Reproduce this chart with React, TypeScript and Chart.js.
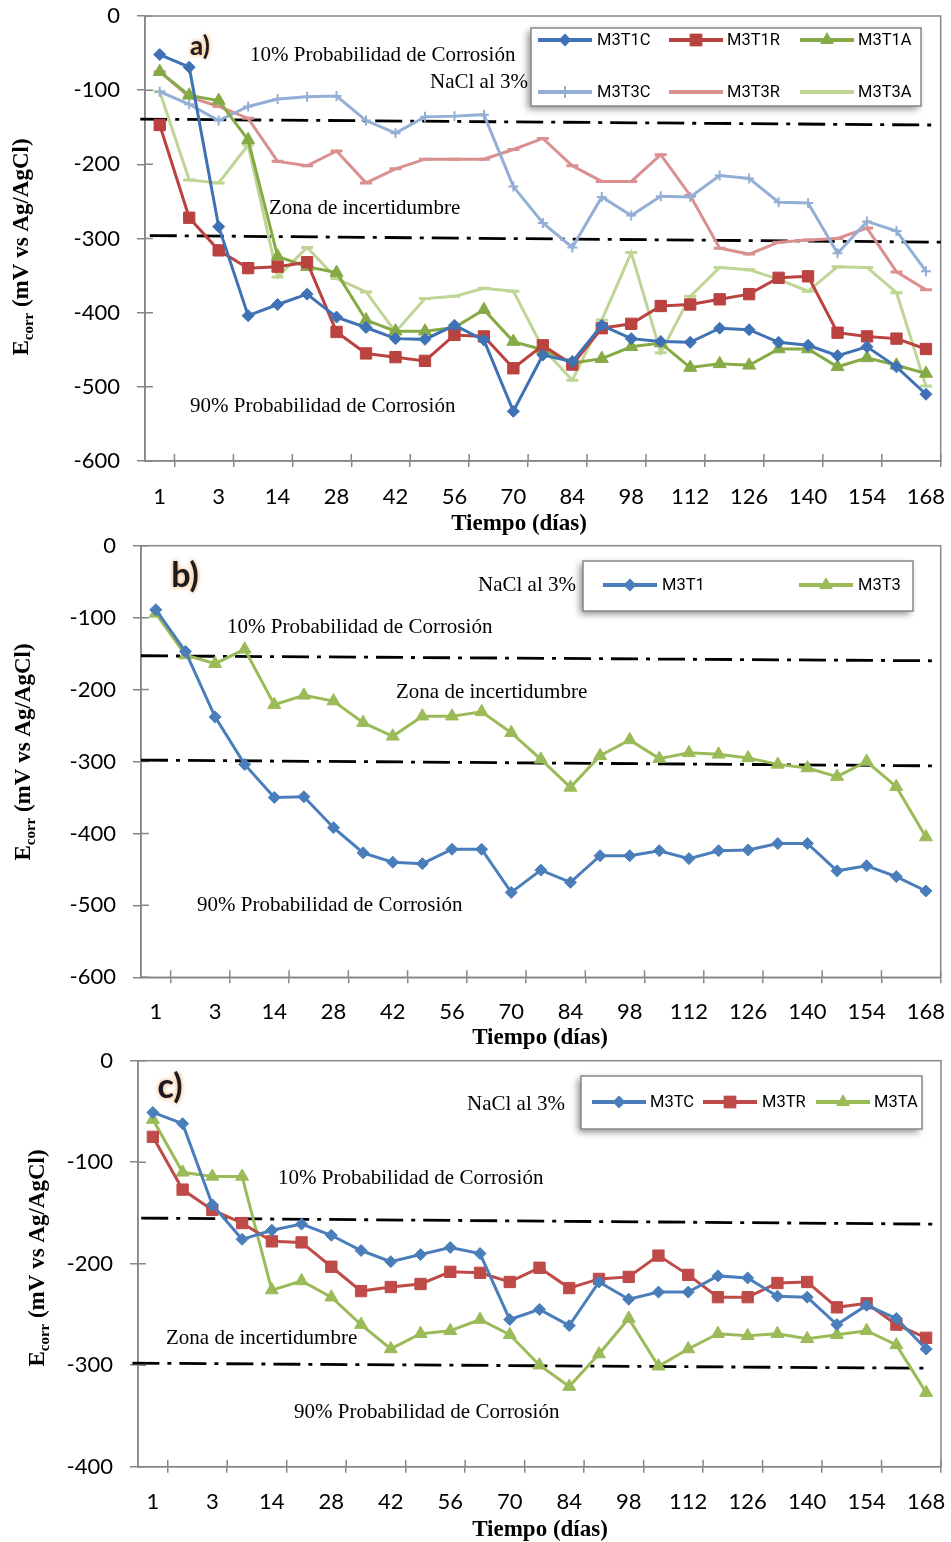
import React, { useEffect, useRef } from 'react';
import { Chart, registerables } from 'chart.js';

Chart.register(...registerables);

// ---------- data ----------
const days = ['1', '2', '3', '7', '14', '21', '28', '35', '42', '49', '56', '63', '70', '77', '84', '91', '98', '105', '112', '119', '126', '133', '140', '147', '154', '161', '168'];

// panel a)
const m3t1c = [-52, -69, -284, -404, -389, -375, -406, -420, -435, -436, -417, -437, -533, -457, -466, -417, -435, -439, -440, -421, -423, -440, -444, -458, -446, -473, -510];
const m3t1r = [-147, -272, -316, -340, -338, -332, -426, -455, -460, -465, -430, -432, -475, -444, -470, -421, -415, -391, -389, -382, -375, -353, -351, -427, -432, -435, -449];
const m3t1a = [-75, -107, -114, -167, -324, -338, -346, -410, -425, -425, -420, -396, -439, -450, -468, -462, -446, -441, -474, -469, -471, -449, -449, -473, -461, -471, -482];
const m3t3c = [-102, -119, -141, -122, -112, -109, -108, -141, -158, -136, -135, -133, -230, -279, -312, -244, -269, -243, -244, -215, -219, -251, -252, -320, -277, -290, -344];
const m3t3r = [-75, -109, -122, -138, -196, -202, -182, -225, -206, -193, -193, -193, -180, -165, -202, -223, -223, -187, -242, -313, -321, -305, -302, -300, -286, -345, -369];
const m3t3a = [-102, -221, -225, -174, -352, -312, -354, -372, -426, -381, -378, -367, -371, -448, -491, -410, -319, -454, -378, -339, -342, -355, -371, -338, -339, -373, -499];

// panel b)
const m3t1 = [-89, -147, -238, -304, -350, -349, -392, -427, -440, -442, -422, -422, -482, -451, -468, -431, -431, -424, -435, -424, -423, -414, -414, -452, -445, -460, -480];
const m3t3 = [-94, -152, -164, -144, -221, -208, -216, -246, -265, -237, -237, -231, -260, -297, -336, -292, -270, -296, -288, -290, -295, -304, -309, -321, -300, -335, -405];

// panel c)
const m3tc = [-51, -62, -142, -176, -167, -161, -172, -187, -198, -191, -184, -190, -255, -245, -261, -218, -235, -228, -228, -212, -214, -232, -233, -260, -241, -254, -284];
const m3tr = [-75, -127, -147, -160, -178, -179, -203, -227, -223, -220, -208, -209, -218, -204, -224, -215, -213, -192, -211, -233, -233, -219, -218, -243, -239, -260, -273];
const m3ta = [-58, -110, -114, -114, -226, -217, -233, -260, -284, -269, -266, -255, -270, -300, -321, -289, -254, -301, -284, -269, -271, -269, -274, -270, -266, -280, -327];

// threshold (dash-dot) lines: x as fraction of plot width, y in mV
const thrAUpper = [{ x: -0.006, y: -139 }, { x: 0.989, y: -147 }];
const thrALower = [{ x: 0.006, y: -296 }, { x: 1.002, y: -305 }];
const thrBUpper = [{ x: 0.0, y: -153 }, { x: 0.989, y: -160 }];
const thrBLower = [{ x: 0.0, y: -298 }, { x: 0.989, y: -306 }];
const thrCUpper = [{ x: 0.004, y: -155 }, { x: 0.99, y: -161 }];
const thrCLower = [{ x: -0.007, y: -298 }, { x: 0.983, y: -303 }];

const yTicksA = [0, -100, -200, -300, -400, -500, -600];
const yTicksC = [0, -100, -200, -300, -400];

// ---------- styles ----------
const AX = '#878787';
const SERIF = '"Liberation Serif", "Times New Roman", serif';
const SANS = 'Lato, "Open Sans", sans-serif';
const LEG = 'Roboto, Lato, sans-serif';

const BLUE_A = '#3F72B5';
const RED_A = '#BA423F';
const GREEN_A = '#86AA45';
const LBLUE = '#93AFD6';
const PINK = '#D9908E';
const LGREEN = '#BFD595';
const BLUE = '#4A7EBB';
const RED = '#BE4B48';
const GREEN = '#9BBB59';

const TXT10 = '10% Probabilidad de Corrosión';
const TXT90 = '90% Probabilidad de Corrosión';
const TXTZ = 'Zona de incertidumbre';
const TXTN = 'NaCl al 3%';

const panels: any[] = [
  {
    id: 'a',
    top: 0,
    height: 540,
    area: { left: 145, top: 16, right: 940.7, bottom: 461 },
    yMin: -600,
    yTicks: yTicksA,
    xLabelPad: 19,
    series: [
      { label: 'M3T1C', data: m3t1c, color: BLUE_A, style: 'rectRot', radius: 6, pbw: 1 },
      { label: 'M3T1R', data: m3t1r, color: RED_A, style: 'rect', radius: 8, pbw: 1 },
      { label: 'M3T1A', data: m3t1a, color: GREEN_A, style: 'triangle', radius: 7.5, pbw: 1 },
      { label: 'M3T3C', data: m3t3c, color: LBLUE, style: 'cross', radius: 5, pbw: 2 },
      { label: 'M3T3R', data: m3t3r, color: PINK, style: 'line', radius: 6, pbw: 3 },
      { label: 'M3T3A', data: m3t3a, color: LGREEN, style: 'line', radius: 6, pbw: 3 },
    ],
    thresholds: [thrAUpper, thrALower],
    texts: [
      [TXT10, 250, 55],
      [TXTN, 430, 82],
      [TXTZ, 269, 208],
      [TXT90, 190, 406],
    ],
    legend: {
      box: [531, 28, 390, 78],
      items: [
        [0, 538, 40, 597],
        [1, 669, 40, 727],
        [2, 800, 40, 858],
        [3, 538, 92, 597],
        [4, 669, 92, 727],
        [5, 800, 92, 858],
      ],
    },
    tag: { text: 'a)', x: 200, y: 47, size: 26 },
    yTitle: { x: 28, y: 247 },
    xTitle: { x: 519, y: 524 },
  },
  {
    id: 'b',
    top: 530,
    height: 520,
    area: { left: 141, top: 15.7, right: 940.7, bottom: 447.3 },
    yMin: -600,
    yTicks: yTicksA,
    xLabelPad: 17.4,
    series: [
      { label: 'M3T1', data: m3t1, color: BLUE, style: 'rectRot', radius: 6, pbw: 1 },
      { label: 'M3T3', data: m3t3, color: GREEN, style: 'triangle', radius: 7.5, pbw: 1 },
    ],
    thresholds: [thrBUpper, thrBLower],
    texts: [
      [TXTN, 478, 55],
      [TXT10, 227, 97],
      [TXTZ, 396, 162],
      [TXT90, 197, 375],
    ],
    legend: {
      box: [583, 31, 330, 50],
      items: [
        [0, 603, 55, 662],
        [1, 799, 55, 858],
      ],
    },
    tag: { text: 'b)', x: 185, y: 46, size: 34 },
    yTitle: { x: 30, y: 222 },
    xTitle: { x: 540, y: 508 },
  },
  {
    id: 'c',
    top: 1045,
    height: 497,
    area: { left: 138, top: 15.7, right: 941, bottom: 421.7 },
    yMin: -400,
    yTicks: yTicksC,
    xLabelPad: 18,
    series: [
      { label: 'M3TC', data: m3tc, color: BLUE, style: 'rectRot', radius: 6, pbw: 1 },
      { label: 'M3TR', data: m3tr, color: RED, style: 'rect', radius: 8, pbw: 1 },
      { label: 'M3TA', data: m3ta, color: GREEN, style: 'triangle', radius: 7.5, pbw: 1 },
    ],
    thresholds: [thrCUpper, thrCLower],
    texts: [
      [TXTN, 467, 59],
      [TXT10, 278, 133],
      [TXTZ, 166, 293],
      [TXT90, 294, 367],
    ],
    legend: {
      box: [581, 31, 341, 53],
      items: [
        [0, 592, 57, 650],
        [1, 703, 57, 762],
        [2, 816, 57, 874],
      ],
    },
    tag: { text: 'c)', x: 170, y: 42, size: 34 },
    yTitle: { x: 44, y: 213 },
    xTitle: { x: 540, y: 485 },
  },
];

// ---------- drawing helpers ----------
function drawMarker(ctx: CanvasRenderingContext2D, style: string, x: number, y: number, r: number, color: string) {
  ctx.save();
  ctx.fillStyle = color;
  ctx.strokeStyle = color;
  ctx.beginPath();
  if (style === 'rectRot') {
    ctx.moveTo(x - r, y);
    ctx.lineTo(x, y - r);
    ctx.lineTo(x + r, y);
    ctx.lineTo(x, y + r);
    ctx.closePath();
    ctx.fill();
  } else if (style === 'rect') {
    const s = r * Math.SQRT1_2;
    ctx.rect(x - s, y - s, 2 * s, 2 * s);
    ctx.fill();
  } else if (style === 'triangle') {
    const sx = r * Math.sin((2 * Math.PI) / 3);
    ctx.moveTo(x, y - r);
    ctx.lineTo(x + sx, y + r / 2);
    ctx.lineTo(x - sx, y + r / 2);
    ctx.closePath();
    ctx.fill();
  } else if (style === 'cross') {
    ctx.lineWidth = 2;
    ctx.moveTo(x, y - r);
    ctx.lineTo(x, y + r);
    ctx.stroke();
  }
  ctx.restore();
}

function zeroPadding(s: any) {
  s.paddingTop = 0;
  s.paddingBottom = 0;
  s.paddingLeft = 0;
  s.paddingRight = 0;
}

function buildConfig(p: any): any {
  const A = p.area;
  const W = 951;

  const datasets: any[] = p.series.map((s: any) => ({
    label: s.label,
    data: s.data,
    borderColor: s.color,
    backgroundColor: s.color,
    borderWidth: 3,
    pointStyle: s.style,
    pointRadius: s.radius,
    pointHoverRadius: s.radius,
    pointBorderWidth: s.pbw,
    pointBackgroundColor: s.color,
    pointBorderColor: s.color,
    tension: 0,
    xAxisID: 'x',
    yAxisID: 'y',
  }));
  p.thresholds.forEach((t: any) => {
    datasets.push({
      label: '',
      data: t,
      borderColor: '#000',
      borderWidth: 2.8,
      borderDash: [27, 8, 4, 8],
      pointRadius: 0,
      fill: false,
      clip: false,
      xAxisID: 'x2',
      yAxisID: 'y',
    });
  });

  const decor = {
    id: 'decor_' + p.id,
    beforeDatasetsDraw(chart: any) {
      const { ctx, chartArea: ca, scales } = chart;
      const xs = scales.x;
      const ys = scales.y;
      ctx.save();
      ctx.strokeStyle = AX;
      ctx.lineWidth = 1.5;
      ctx.strokeRect(ca.left, ca.top, ca.right - ca.left, ca.bottom - ca.top);
      const n = days.length;
      const half = (xs.getPixelForValue(1) - xs.getPixelForValue(0)) / 2;
      ctx.beginPath();
      for (let k = 0; k < n; k += 2) {
        const px = xs.getPixelForValue(k) + half;
        ctx.moveTo(px, ca.bottom - 7);
        ctx.lineTo(px, ca.bottom);
      }
      p.yTicks.forEach((v: number) => {
        const py = ys.getPixelForValue(v);
        ctx.moveTo(ca.left, py);
        ctx.lineTo(ca.left + 8, py);
      });
      ctx.stroke();
      ctx.restore();
    },
    afterDatasetsDraw(chart: any) {
      const { ctx } = chart;
      ctx.save();
      ctx.fillStyle = '#000';
      ctx.font = '21px ' + SERIF;
      ctx.textAlign = 'left';
      ctx.textBaseline = 'middle';
      p.texts.forEach((t: any) => ctx.fillText(t[0], t[1], t[2]));
      ctx.restore();

      // legend
      const [bx, by, bw, bh] = p.legend.box;
      ctx.save();
      ctx.shadowColor = 'rgba(0,0,0,0.45)';
      ctx.shadowBlur = 7;
      ctx.shadowOffsetX = -3;
      ctx.shadowOffsetY = 3;
      ctx.fillStyle = '#fff';
      ctx.fillRect(bx, by, bw, bh);
      ctx.restore();
      ctx.save();
      ctx.strokeStyle = AX;
      ctx.lineWidth = 1.5;
      ctx.strokeRect(bx, by, bw, bh);
      p.legend.items.forEach((it: any) => {
        const [di, sx, ry, tx] = it;
        const s = p.series[di];
        ctx.strokeStyle = s.color;
        ctx.lineWidth = 4;
        ctx.beginPath();
        ctx.moveTo(sx, ry);
        ctx.lineTo(sx + 54, ry);
        ctx.stroke();
        const r = s.style === 'rect' ? 9 : s.style === 'triangle' ? 8 : s.style === 'cross' ? 6 : 6.5;
        drawMarker(ctx, s.style, sx + 27, ry, r, s.color);
        ctx.fillStyle = '#000';
        ctx.font = '16.5px ' + LEG;
        ctx.textAlign = 'left';
        ctx.textBaseline = 'middle';
        ctx.fillText(s.label, tx, ry + 1);
      });
      ctx.restore();
    },
    afterDraw(chart: any) {
      const { ctx } = chart;
      // panel tag with orange glow
      ctx.save();
      ctx.font = 'bold ' + p.tag.size + 'px ' + SANS;
      ctx.textAlign = 'center';
      ctx.textBaseline = 'middle';
      ctx.shadowColor = 'rgba(245,150,60,0.95)';
      ctx.shadowBlur = 4;
      ctx.fillStyle = '#1a1a22';
      ctx.fillText(p.tag.text, p.tag.x, p.tag.y);
      ctx.restore();

      // x title
      ctx.save();
      ctx.font = 'bold 23px ' + SERIF;
      ctx.fillStyle = '#000';
      ctx.textAlign = 'center';
      ctx.textBaseline = 'middle';
      ctx.fillText('Tiempo (días)', p.xTitle.x, p.xTitle.y);
      ctx.restore();

      // y title with subscript
      ctx.save();
      ctx.translate(p.yTitle.x, p.yTitle.y);
      ctx.rotate(-Math.PI / 2);
      ctx.fillStyle = '#000';
      ctx.textBaseline = 'alphabetic';
      ctx.textAlign = 'left';
      const big = 'bold 23px ' + SERIF;
      const small = 'bold 15px ' + SERIF;
      const parts: [string, string, number][] = [
        ['E', big, 0],
        ['corr', small, 5],
        [' (mV vs Ag/AgCl)', big, 0],
      ];
      let total = 0;
      const widths = parts.map(([t, f]) => {
        ctx.font = f;
        const w = ctx.measureText(t).width;
        total += w;
        return w;
      });
      let cx = -total / 2;
      parts.forEach(([t, f, dy], i) => {
        ctx.font = f;
        ctx.fillText(t, cx, dy);
        cx += widths[i];
      });
      ctx.restore();
    },
  };

  return {
    type: 'line',
    data: { labels: days, datasets },
    options: {
      responsive: false,
      maintainAspectRatio: false,
      animation: false,
      devicePixelRatio: 1,
      events: [],
      layout: { autoPadding: false, padding: { top: A.top, right: W - A.right, left: 0, bottom: 0 } },
      plugins: {
        legend: { display: false },
        tooltip: { enabled: false },
        title: { display: false },
      },
      scales: {
        x: {
          type: 'category',
          position: 'bottom',
          offset: true,
          grid: {
            offset: true,
            drawOnChartArea: false,
            drawTicks: true,
            tickLength: 6,
            lineWidth: 1.5,
            color: (c: any) => (c.index === undefined || c.index % 2 === 1 ? AX : 'rgba(0,0,0,0)'),
          },
          border: { display: true, color: AX, width: 1.5 },
          ticks: {
            autoSkip: false,
            maxRotation: 0,
            minRotation: 0,
            padding: p.xLabelPad,
            color: '#000',
            font: { family: SANS, size: 22, lineHeight: 1 },
            callback: (_v: any, i: number) => (i % 2 === 0 ? days[i] : ''),
          },
          title: { display: false },
          afterFit: (s: any) => {
            s.height = p.height - A.bottom;
            zeroPadding(s);
          },
        },
        x2: {
          type: 'linear',
          display: false,
          min: 0,
          max: 1,
          afterFit: zeroPadding,
        },
        y: {
          type: 'linear',
          position: 'left',
          min: p.yMin,
          max: 0,
          grid: {
            drawOnChartArea: false,
            drawTicks: true,
            tickLength: 8,
            lineWidth: 1.5,
            color: AX,
          },
          border: { display: true, color: AX, width: 1.5 },
          ticks: {
            stepSize: 100,
            padding: 17,
            color: '#000',
            font: { family: SANS, size: 22, lineHeight: 1 },
          },
          title: { display: false },
          afterFit: (s: any) => {
            s.width = A.left;
            zeroPadding(s);
          },
        },
      },
    },
    plugins: [decor],
  };
}

function Panel({ p }: { p: any }) {
  const ref = useRef<HTMLCanvasElement | null>(null);
  useEffect(() => {
    if (!ref.current) return;
    const chart = new Chart(ref.current, buildConfig(p));
    return () => chart.destroy();
  }, [p]);
  return (
    <canvas
      ref={ref}
      width={951}
      height={p.height}
      style={{ position: 'absolute', left: 0, top: p.top, width: 951, height: p.height, display: 'block' }}
    />
  );
}

export default function App() {
  useEffect(() => {
    document.body.style.margin = '0';
    document.body.style.background = '#fff';
  }, []);
  return (
    <div style={{ position: 'relative', width: 951, height: 1542, background: '#fff', overflow: 'hidden' }}>
      {panels.map((p) => (
        <Panel key={p.id} p={p} />
      ))}
    </div>
  );
}
